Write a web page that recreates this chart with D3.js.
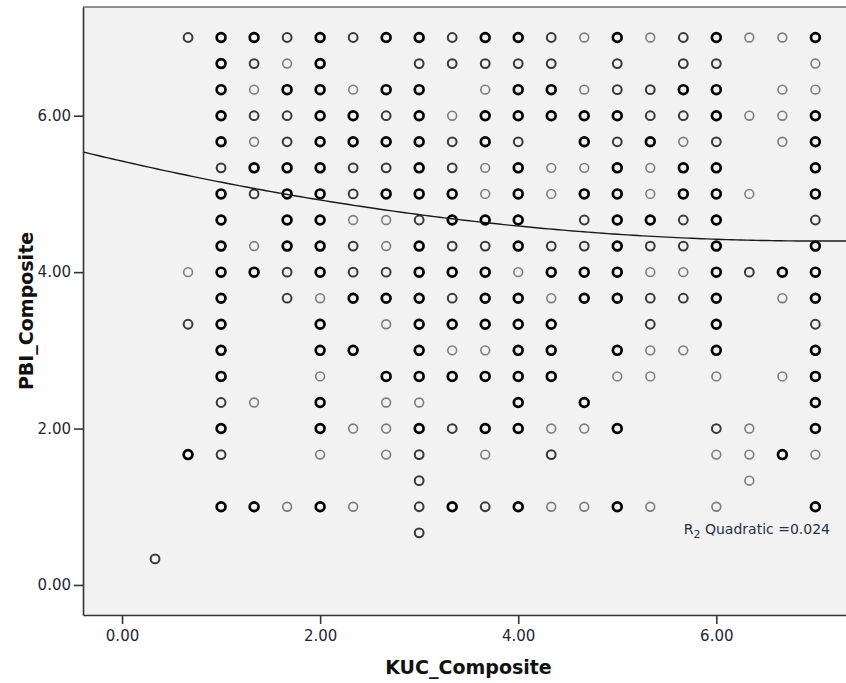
<!DOCTYPE html>
<html>
<head>
<meta charset="utf-8">
<script src="https://cdn.jsdelivr.net/npm/d3@7"></script>
<style>
  html, body { margin: 0; padding: 0; background: #ffffff; }
  svg { display: block; font-family: "DejaVu Sans", sans-serif; }
</style>
</head>
<body>
<svg id="chart"></svg>
<script>
// KUC_Composite values (columns of the scatter grid)
const kucValues = [1/3, 2/3, 1, 4/3, 5/3, 2, 7/3, 8/3, 3, 10/3, 11/3, 4,
  13/3, 14/3, 5, 16/3, 17/3, 6, 19/3, 20/3, 7];

// PBI_Composite values, top row first
const pbiValues = [7, 20/3, 19/3, 6, 17/3, 16/3, 5, 14/3, 13/3, 4, 11/3,
  10/3, 3, 8/3, 7/3, 2, 5/3, 4/3, 1, 2/3, 1/3];

// overplot density per cell, one string per PBI row, one char per KUC column
// '.' = no case, 1 = few cases (light), 2 = some, 3 = many (bold)
const densityRows = [
  ".23323233233213123113",
  "..3213..22222.2.22..1",
  "..3133133.13312233.11",
  "..3223323133333223113",
  "..3123333232.32312.13",
  "..2333223213113133..3",
  "..32332333131331331.3",
  "..3.33112333.23323..2",
  "..3133213223223223..3",
  ".13323223331333113233",
  "..3.21333233133223.13",
  ".23..3.133333..2.3..2",
  "..3..33.31133.3113..3",
  "..3..1.333333.11.1.13",
  "..21.3.11..3.3......3",
  "..3..3113233113..21.3",
  ".32..1.12.1.2....1131",
  "........2.........1..",
  "..33131.23231131.1..3",
  "........2............",
  "2...................."
];

// quadratic fit: PBI = b0 + b1*KUC + b2*KUC^2
const fitCoef = [5.419, -0.2893, 0.02048];
const rSquare = 0.024;

const xTicks = [0, 2, 4, 6];
const yTicks = [0, 2, 4, 6];

const width = 846;
const height = 683;
const plot = { left: 83, top: 7, right: 854, bottom: 615 };

const svg = d3.select("#chart")
  .attr("width", width)
  .attr("height", height);

const x = d3.scaleLinear()
  .domain([-0.394, 7.39])
  .range([plot.left, plot.right]);

const y = d3.scaleLinear()
  .domain([-0.384, 7.39])
  .range([plot.bottom, plot.top]);

// plot background
svg.append("rect")
  .attr("x", plot.left)
  .attr("y", plot.top)
  .attr("width", plot.right - plot.left)
  .attr("height", plot.bottom - plot.top)
  .attr("fill", "#f2f2f2");

// top frame line is lighter than the axes
svg.append("line")
  .attr("x1", plot.left).attr("x2", plot.right)
  .attr("y1", plot.top).attr("y2", plot.top)
  .attr("stroke", "#8e8e8e")
  .attr("stroke-width", 2);

// turn the density strings into points
const points = [];
densityRows.forEach((row, i) => {
  row.split("").forEach((c, j) => {
    if (c !== ".") points.push({ kuc: kucValues[j], pbi: pbiValues[i], level: +c });
  });
});

const levelStroke = { 1: "#7c7c7c", 2: "#383838", 3: "#000000" };
const levelWidth = { 1: 1.6, 2: 2.0, 3: 2.7 };

svg.append("g")
  .attr("class", "points")
  .selectAll("circle")
  .data(points)
  .enter()
  .append("circle")
  .attr("cx", d => x(d.kuc))
  .attr("cy", d => y(d.pbi))
  .attr("r", 4.4)
  .attr("fill", "none")
  .attr("stroke", d => levelStroke[d.level])
  .attr("stroke-width", d => levelWidth[d.level]);

// fit line across the whole x range
const fitLine = d3.line()
  .x(d => x(d))
  .y(d => y(fitCoef[0] + fitCoef[1] * d + fitCoef[2] * d * d));

svg.append("path")
  .datum(d3.range(x.domain()[0], x.domain()[1] + 0.01, 0.05))
  .attr("d", fitLine)
  .attr("fill", "none")
  .attr("stroke", "#1a1a1a")
  .attr("stroke-width", 1.4);

// R2 label
const rLabel = svg.append("text")
  .attr("x", 830)
  .attr("y", 534)
  .attr("text-anchor", "end")
  .attr("font-size", 14)
  .attr("fill", "#2a2f3d");
rLabel.append("tspan").text("R");
rLabel.append("tspan").attr("font-size", 11).attr("dy", 4).text("2");
rLabel.append("tspan").attr("dy", -4).text(` Quadratic =${rSquare.toFixed(3)}`);

// axes
const xAxis = svg.append("g")
  .attr("transform", `translate(0,${plot.bottom})`)
  .call(d3.axisBottom(x).tickValues(xTicks).tickFormat(d3.format(".2f"))
    .tickSizeInner(9).tickSizeOuter(0).tickPadding(6));

const yAxis = svg.append("g")
  .attr("transform", `translate(${plot.left},0)`)
  .call(d3.axisLeft(y).tickValues(yTicks).tickFormat(d3.format(".2f"))
    .tickSizeInner(9).tickSizeOuter(0).tickPadding(3));

[xAxis, yAxis].forEach(g => {
  g.select(".domain").attr("stroke", "#333").attr("stroke-width", 1.6);
  g.selectAll(".tick line").attr("stroke", "#333").attr("stroke-width", 1.6);
  g.selectAll(".tick text")
    .attr("font-size", 15)
    .attr("font-family", "DejaVu Sans")
    .attr("fill", "#1f2638");
});

// axis titles
svg.append("text")
  .attr("x", (plot.left + plot.right) / 2)
  .attr("y", 674)
  .attr("text-anchor", "middle")
  .attr("font-size", 19)
  .attr("font-weight", "bold")
  .attr("fill", "#111")
  .text("KUC_Composite");

svg.append("text")
  .attr("transform", `translate(33,${(plot.top + plot.bottom) / 2}) rotate(-90)`)
  .attr("text-anchor", "middle")
  .attr("font-size", 19)
  .attr("font-weight", "bold")
  .attr("fill", "#111")
  .text("PBI_Composite");
</script>
</body>
</html>
